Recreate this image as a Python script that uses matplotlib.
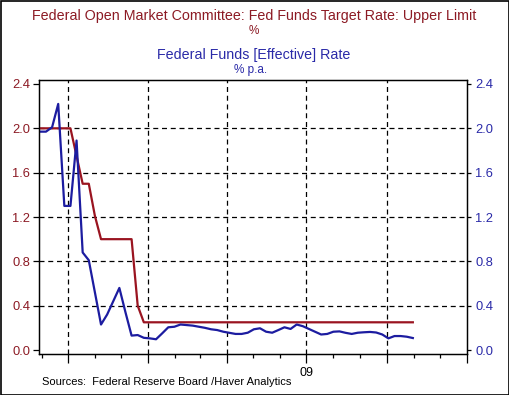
import matplotlib
matplotlib.use("Agg")
import matplotlib.pyplot as plt
import matplotlib.dates as mdates
import matplotlib.ticker as mticker
from matplotlib.patches import Rectangle
import pandas as pd
import datetime as dt

plt.rcParams['font.family'] = ['Liberation Sans', 'DejaVu Sans']

# Weekly observations (Aug 30, 2008 onward)
weeks = pd.date_range(start="2008-08-30", periods=62, freq="7D")

target_upper = [2.00, 2.00, 2.00, 2.00, 2.00, 2.00, 1.75, 1.50, 1.50, 1.21,
                1.00, 1.00, 1.00, 1.00, 1.00, 1.00, 0.40, 0.25, 0.25, 0.25,
                0.25, 0.25, 0.25, 0.25, 0.25, 0.25, 0.25, 0.25, 0.25, 0.25,
                0.25, 0.25, 0.25, 0.25, 0.25, 0.25, 0.25, 0.25, 0.25, 0.25,
                0.25, 0.25, 0.25, 0.25, 0.25, 0.25, 0.25, 0.25, 0.25, 0.25,
                0.25, 0.25, 0.25, 0.25, 0.25, 0.25, 0.25, 0.25, 0.25, 0.25,
                0.25, 0.25]

effective = [1.97, 1.97, 2.01, 2.22, 1.30, 1.30, 1.89, 0.88, 0.81, 0.52,
             0.23, 0.32, 0.44, 0.56, 0.34, 0.13, 0.135, 0.11, 0.105, 0.097,
             0.15, 0.205, 0.21, 0.23, 0.225, 0.22, 0.21, 0.20, 0.187, 0.18,
             0.165, 0.155, 0.145, 0.145, 0.156, 0.187, 0.196, 0.165, 0.156, 0.18,
             0.205, 0.19, 0.23, 0.215, 0.19, 0.165, 0.14, 0.145, 0.165, 0.168,
             0.155, 0.145, 0.156, 0.16, 0.163, 0.158, 0.14, 0.105, 0.126, 0.126,
             0.12, 0.108]

y_ticks = [0.0, 0.4, 0.8, 1.2, 1.6, 2.0, 2.4]
y_ticklabels = ["0.0", "0.4", "0.8", "1.2", "1.6", "2.0", "2.4"]
year_label = "09"

title1 = "Federal Open Market Committee: Fed Funds Target Rate: Upper Limit"
unit1 = "%"
title2 = "Federal Funds [Effective] Rate"
unit2 = "% p.a."
source = "Sources:  Federal Reserve Board /Haver Analytics"

RED = "#9a1420"
BLUE = "#1c1ca0"
RED_TXT = "#8c1a24"
BLUE_TXT = "#2a2aa8"

W, H = 510, 395
fig = plt.figure(figsize=(W / 100, H / 100), dpi=100)
fig.patch.set_facecolor("white")

L, R, T, B = 39, 467, 80, 354
ax = fig.add_axes([L / W, 1 - B / H, (R - L) / W, (B - T) / H])

ax.plot(weeks, target_upper, color=RED, lw=1.6, zorder=3)
ax.plot(weeks, effective, color=BLUE, lw=1.6, zorder=4)

ax.set_xlim(dt.date(2008, 8, 29), dt.date(2010, 1, 1))
ax.set_ylim(-0.036, 2.436)

# x ticks
ax.xaxis.set_major_locator(mdates.MonthLocator(bymonth=[1, 4, 7, 10]))
ax.xaxis.set_minor_locator(mdates.MonthLocator())

def xfmt(x, pos):
    d = mdates.num2date(x)
    return year_label if (d.year == 2009 and d.month == 7) else ""

ax.xaxis.set_major_formatter(mticker.FuncFormatter(xfmt))
ax.tick_params(axis="x", which="major", direction="out", length=6.5, width=0.9,
               pad=3, labelsize=9, colors="black")
ax.tick_params(axis="x", which="minor", direction="out", length=3, width=0.9)

ax.set_yticks(y_ticks)
ax.set_yticklabels(y_ticklabels)
ax.tick_params(axis="y", direction="out", length=4.3, width=0.9, pad=2,
               labelsize=9.3, labelcolor=RED_TXT)

# grid
for yv in y_ticks[1:-1]:
    ax.axhline(yv, color="black", lw=0.9, ls=(0, (4, 3)), zorder=1)
for d in [dt.date(2008, 10, 1), dt.date(2009, 1, 1), dt.date(2009, 4, 1),
          dt.date(2009, 7, 1), dt.date(2009, 10, 1)]:
    ax.axvline(d, color="black", lw=0.9, ls=(0, (4, 3)), zorder=1)

for s in ax.spines.values():
    s.set_linewidth(0.9)

ax2 = ax.twinx()
ax2.set_ylim(ax.get_ylim())
ax2.set_yticks(y_ticks)
ax2.set_yticklabels(y_ticklabels)
ax2.tick_params(axis="y", direction="out", length=3, width=0.9, pad=3,
                labelsize=9.3, labelcolor=BLUE_TXT)
for s in ax2.spines.values():
    s.set_linewidth(0.9)

# titles
fig.text(254 / W, 1 - 16 / H, title1, ha="center", va="center", fontsize=10.3, color=RED_TXT)
fig.text(254 / W, 1 - 31 / H, unit1, ha="center", va="center", fontsize=8.5, color=RED_TXT)
fig.text(254 / W, 1 - 55 / H, title2, ha="center", va="center", fontsize=10.3, color=BLUE_TXT)
fig.text(251 / W, 1 - 70 / H, unit2, ha="center", va="center", fontsize=8.5, color=BLUE_TXT)
fig.text(42 / W, 1 - 382 / H, source, ha="left", va="center", fontsize=8, color="black")

# outer border
fig.patches.append(Rectangle((0.5 / W, 0.5 / H), (W - 1.5) / W, (H - 1.5) / H,
                             transform=fig.transFigure, fill=False,
                             edgecolor="black", lw=1.2))

fig.savefig("out.png", dpi=100, facecolor="white")
